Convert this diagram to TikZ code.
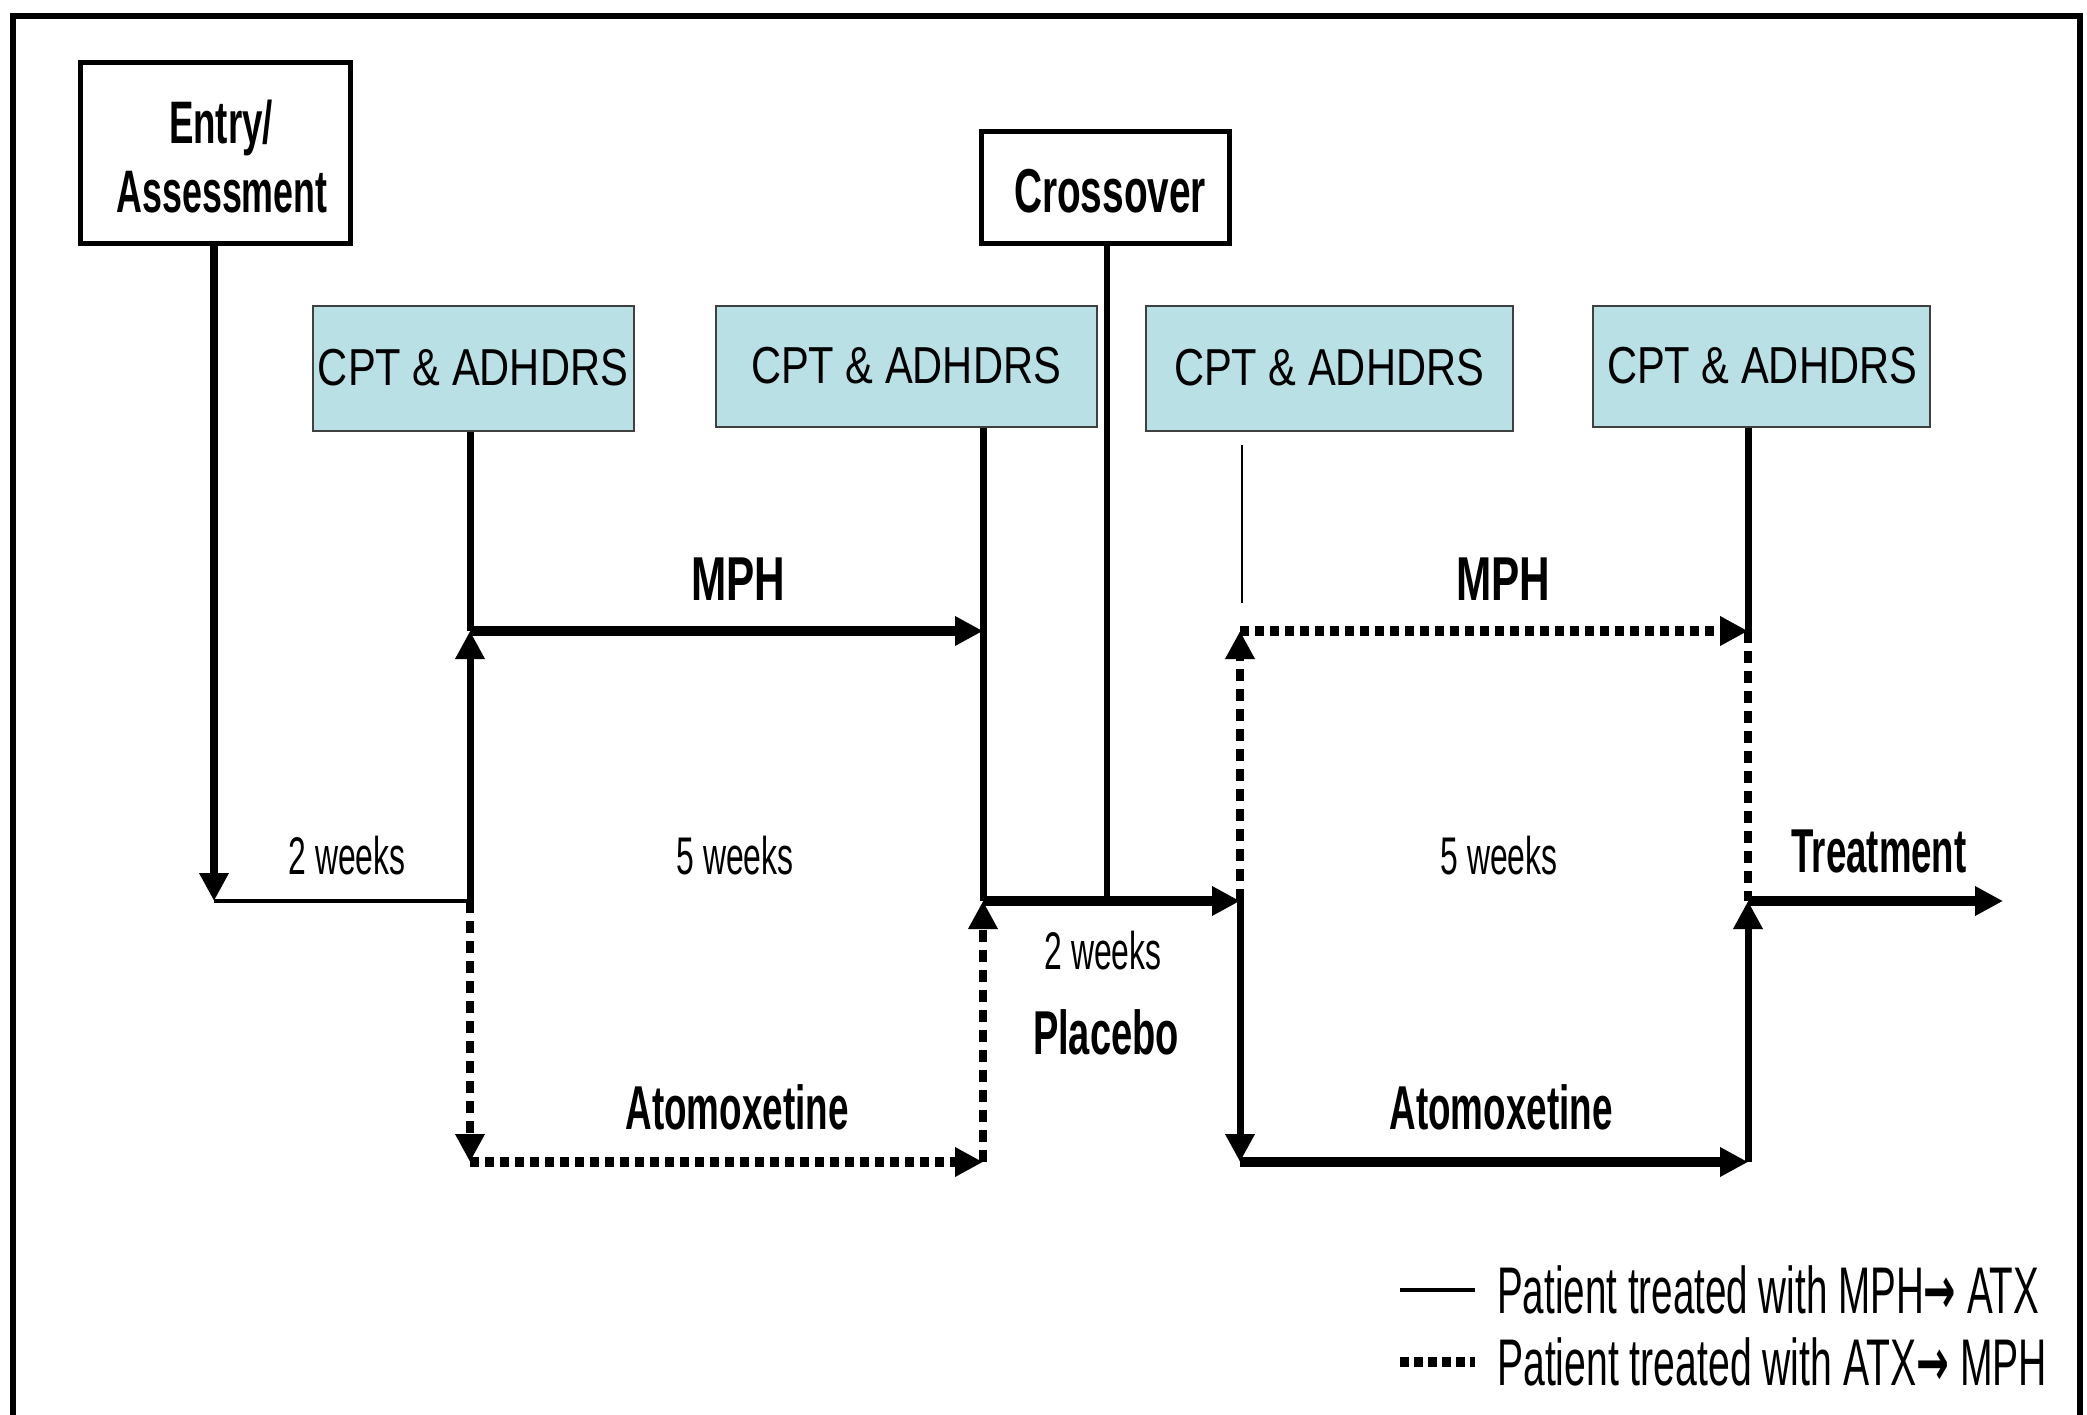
\documentclass[tikz,border=0pt]{standalone}
\usepackage{graphicx}
\usepackage{fontspec}
\setmainfont{Liberation Sans}
\newfontfamily\arrowfont{DejaVu Sans}
\usetikzlibrary{arrows.meta}
\definecolor{cptblue}{RGB}{185,224,228}
\newcommand\sqz[3]{\resizebox{#1bp}{\height}{\fontsize{#2bp}{#2bp}\selectfont #3}}
\newcommand\rarr{{\arrowfont\bfseries →}}
\begin{document}
\begin{tikzpicture}[x=1bp,y=-1bp,
  tip/.style={-{Triangle[width=28bp,length=28bp]}},
  heavy/.style={line width=10bp},
  med/.style={line width=7bp},
  dotH/.style={line width=10bp, dash pattern=on 9bp off 6bp},
  dotV/.style={line width=8bp, dash pattern=on 12bp off 8bp},
  whitebox/.style={draw, line width=5bp, fill=white, inner sep=0pt},
  cpt/.style={draw=black!75, line width=1.5bp, fill=cptblue, inner sep=0pt,
              text height=0pt},
  lbl/.style={inner sep=0pt, anchor=base}]
\useasboundingbox (0,0) rectangle (2087,1415);
\fill[white] (0,0) rectangle (2087,1415);
\draw[line width=6bp] (13,16) rectangle (2080,1460);

% boxes
\node[whitebox, minimum width=269bp, minimum height=181bp] (entry) at (215.5,153.5) {};
\node[whitebox, minimum width=248bp, minimum height=112bp] (cross) at (1105,188) {};
\node[cpt, minimum width=321bp, minimum height=125bp] (cpt1) at (473.5,368.5) {};
\node[cpt, minimum width=381bp, minimum height=121bp] (cpt2) at (906.5,366.5) {};
\node[cpt, minimum width=367bp, minimum height=125bp] (cpt3) at (1329.5,368.5) {};
\node[cpt, minimum width=337bp, minimum height=121bp] (cpt4) at (1761.5,366.5) {};

\node[lbl] (cpt1t) at (473,386) {\sqz{310}{52}{CPT \& ADHDRS}};
\node[lbl] (cpt2t) at (906,384) {\sqz{310}{52}{CPT \& ADHDRS}};
\node[lbl] (cpt3t) at (1329,386) {\sqz{310}{52}{CPT \& ADHDRS}};
\node[lbl] (cpt4t) at (1762,384) {\sqz{310}{52}{CPT \& ADHDRS}};

% junction coordinates
\coordinate (e)  at (214,901);
\coordinate (j1) at (470,631);
\coordinate (j2) at (470,901);
\coordinate (j3) at (470,1162);
\coordinate (k1) at (983,631);
\coordinate (k2) at (983,901);
\coordinate (k3) at (983,1162);
\coordinate (c2) at (1107,901);
\coordinate (m1) at (1240,631);
\coordinate (m2) at (1240,901);
\coordinate (m3) at (1240,1162);
\coordinate (n1) at (1748,631);
\coordinate (n2) at (1748,901);
\coordinate (n3) at (1748,1162);
\coordinate (t)  at (2003,901);
\coordinate (p1) at (1242,445);
\coordinate (p2) at (1242,603);

% connectors
\draw[line width=8bp, tip] (entry.south -| e) -- (e);
\draw[line width=4bp] (e) -- (j2);
\draw[med] (cpt1.south -| j1) -- (j1);
\draw[med, tip] (j2) -- (j1);
\draw[heavy, tip] (j1) -- (k1);
\draw[dotV, tip] (j2) -- (j3);
\draw[dotH, tip] (j3) -- (k3);
\draw[dotV, tip] (k3) -- (k2);
\draw[med] (cpt2.south -| k1) -- (k2);
\draw[line width=6bp] (cross.south -| c2) -- (c2);
\draw[heavy, tip] (k2) -- (m2);
\draw[line width=1.5bp] (p1) -- (p2);
\draw[dotV, tip] (m2) -- (m1);
\draw[dotH, tip] (m1) -- (n1);
\draw[med, tip] (m2) -- (m3);
\draw[heavy, tip] (m3) -- (n3);
\draw[med, tip] (n3) -- (n2);
\draw[dotV] (n1) -- (n2);
\draw[med] (cpt4.south -| n1) -- (n1);
\draw[heavy, tip] (n2) -- (t);

% labels
\node[lbl] (entryA) at (221,144) {\sqz{104}{60}{\bfseries Entry/}};
\node[lbl] (entryB) at (222,213) {\sqz{211}{60}{\bfseries Assessment}};
\node[lbl] (crossT) at (1110,213) {\sqz{192}{62}{\bfseries Crossover}};
\node[lbl] (mph1) at (738,600) {\sqz{94}{62}{\bfseries MPH}};
\node[lbl] (mph2) at (1503,600) {\sqz{94}{62}{\bfseries MPH}};
\node[lbl] (w2a) at (347,874) {\sqz{117}{53}{2 weeks}};
\node[lbl] (w5a) at (735,874) {\sqz{117}{53}{5 weeks}};
\node[lbl] (w5b) at (1499,874) {\sqz{117}{53}{5 weeks}};
\node[lbl] (w2b) at (1103,969) {\sqz{117}{53}{2 weeks}};
\node[lbl] (plac) at (1106,1054) {\sqz{146}{62}{\bfseries Placebo}};
\node[lbl] (atx1) at (737,1129) {\sqz{223}{62}{\bfseries Atomoxetine}};
\node[lbl] (atx2) at (1501,1129) {\sqz{223}{62}{\bfseries Atomoxetine}};
\node[lbl] (treat) at (1879,872) {\sqz{175}{62}{\bfseries Treatment}};

% legend
\coordinate (l1a) at (1400,1290);
\coordinate (l1b) at (1475,1290);
\coordinate (l2a) at (1400,1362);
\coordinate (l2b) at (1475,1362);
\draw[line width=4bp] (l1a) -- (l1b);
\draw[line width=10bp, dash pattern=on 9bp off 5bp] (l2a) -- (l2b);
\node[inner sep=0pt, anchor=base west] (leg1) at (1497,1313) {\sqz{542}{66}{Patient treated with MPH\rarr{} ATX}};
\node[inner sep=0pt, anchor=base west] (leg2) at (1497,1385) {\sqz{550}{66}{Patient treated with ATX\rarr{} MPH}};
\end{tikzpicture}
\end{document}
